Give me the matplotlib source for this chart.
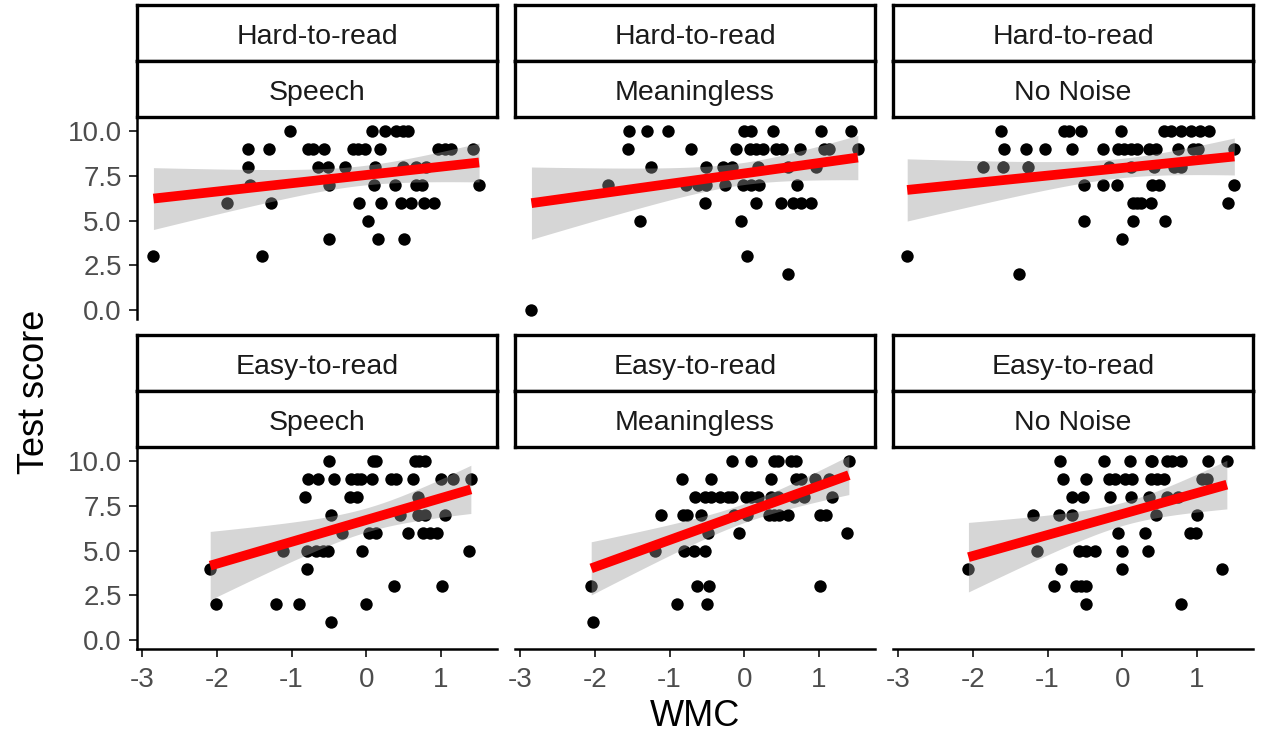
import numpy as np
import matplotlib.pyplot as plt

plt.rcParams['font.family'] = ['Liberation Sans', 'DejaVu Sans']
plt.rcParams['axes.unicode_minus'] = False

legibility = ['Hard-to-read', 'Easy-to-read']
noise = ['Speech', 'Meaningless', 'No Noise']

# Hard-to-read / Speech
wmc_hard_speech = [-1.02, 0.07, 0.25, 0.40, 0.49, 0.56,
                   -1.58, -1.30, -0.78, -0.71, -0.56, -0.18, -0.11, -0.02, 0.18, 0.96, 1.05, 1.14, 1.43,
                   -1.58, -0.65, -0.51, -0.28, 0.11, 0.49, 0.67, 0.80,
                   -1.56, -0.50, 0.10, 0.38, 0.67, 0.74, 1.51,
                   -1.86, -1.27, -0.10, 0.20, 0.47, 0.60, 0.77, 0.90,
                   0.02,
                   -0.50, 0.16, 0.50,
                   -2.85, -1.39]
score_hard_speech = [10] * 6 + [9] * 13 + [8] * 8 + [7] * 7 + [6] * 8 + [5] * 1 + [4] * 3 + [3] * 2

# Hard-to-read / Meaningless
wmc_hard_mean = [-1.55, -1.30, -1.02, 0.00, 0.09, 0.38, 1.03, 1.43,
                 -1.56, -0.71, -0.11, 0.07, 0.16, 0.25, 0.42, 0.51, 0.74, 1.07, 1.14, 1.52,
                 -1.25, -0.51, -0.29, -0.16, 0.18, 0.58, 0.96,
                 -1.83, -0.78, -0.62, -0.51, -0.26, -0.02, 0.09, 0.20, 0.71,
                 -0.53, 0.16, 0.49, 0.65, 0.76, 0.89,
                 -1.40, -0.04,
                 0.04,
                 0.59,
                 -2.85]
score_hard_mean = [10] * 8 + [9] * 12 + [8] * 7 + [7] * 9 + [6] * 6 + [5] * 2 + [3] + [2] + [0]

# Hard-to-read / No Noise
wmc_hard_none = [-1.62, -0.78, -0.71, -0.55, -0.02, 0.56, 0.65, 0.78, 0.92, 1.04, 1.16,
                 -1.58, -1.29, -1.04, -0.67, -0.26, -0.06, 0.02, 0.11, 0.20, 0.36, 0.45, 0.74, 0.94, 1.01, 1.50,
                 -1.86, -1.60, -1.26, -0.18, 0.11, 0.43, 0.69, 0.78,
                 -0.51, -0.26, -0.07, 0.40, 0.49, 1.50,
                 0.14, 0.20, 0.25, 0.38, 1.41,
                 -0.51, 0.14, 0.57,
                 0.00,
                 -2.88,
                 -1.38]
score_hard_none = [10] * 11 + [9] * 15 + [8] * 8 + [7] * 6 + [6] * 5 + [5] * 3 + [4] + [3] + [2]

# Easy-to-read / Speech
wmc_easy_speech = [-0.50, 0.09, 0.13, 0.65, 0.71, 0.78,
                   -0.78, -0.65, -0.43, -0.20, -0.13, -0.07, 0.08, 0.33, 0.40, 0.62, 1.00, 1.16, 1.40,
                   -0.82, -0.22, -0.13, 0.69,
                   -0.47, 0.45, 0.69, 0.78, 1.06,
                   -0.33, 0.04, 0.13, 0.56, 0.76, 0.85, 0.94,
                   -1.11, -0.80, -0.67, -0.58, -0.51, -0.06, 1.37,
                   -2.09, -0.80,
                   0.37, 1.02,
                   -2.01, -1.21, -0.90, 0.00,
                   -0.47]
score_easy_speech = [10] * 6 + [9] * 13 + [8] * 4 + [7] * 5 + [6] * 7 + [5] * 7 + [4] * 2 + [3] * 2 + [2] * 4 + [1]

# Easy-to-read / Meaningless
wmc_easy_mean = [-0.16, 0.09, 0.40, 0.45, 0.62, 0.69, 1.40,
                 -0.83, -0.44, 0.36, 0.69, 0.76, 0.94, 1.14,
                 -0.66, -0.53, -0.45, -0.33, -0.22, -0.16, 0.02, 0.09, 0.18, 0.36, 0.45, 0.67, 0.80, 1.18,
                 -1.12, -0.82, -0.77, -0.58, -0.14, 0.04, 0.33, 0.40, 0.47, 0.59, 1.02, 1.09,
                 -0.49, -0.07, 1.37,
                 -1.20, -0.81, -0.67, -0.53,
                 -2.05, -0.63, -0.47, 1.02,
                 -0.90, -0.50,
                 -2.02]
score_easy_mean = [10] * 7 + [9] * 7 + [8] * 14 + [7] * 12 + [6] * 3 + [5] * 4 + [3] * 4 + [2] * 2 + [1]

# Easy-to-read / No Noise
wmc_easy_none = [-0.83, -0.25, 0.10, 0.38, 0.40, 0.60, 0.67, 0.78, 1.15, 1.40,
                 -0.80, -0.48, -0.18, -0.10, 0.04, 0.13, 0.38, 0.47, 0.56, 1.07, 1.14,
                 -0.68, -0.52, -0.16, 0.11, 0.36, 0.60, 0.74,
                 -1.20, -0.85, -0.67, 0.45, 1.00,
                 -0.06, 0.31, 0.91, 0.99,
                 -1.14, -0.58, -0.49, -0.36, 0.00, 0.35,
                 -2.06, -0.82, 0.00, 1.34,
                 -0.92, -0.62, -0.55, -0.49,
                 -0.49, 0.78]
score_easy_none = [10] * 10 + [9] * 11 + [8] * 7 + [7] * 5 + [6] * 4 + [5] * 6 + [4] * 4 + [3] * 4 + [2] * 2

panels = [
    [(wmc_hard_speech, score_hard_speech), (wmc_hard_mean, score_hard_mean), (wmc_hard_none, score_hard_none)],
    [(wmc_easy_speech, score_easy_speech), (wmc_easy_mean, score_easy_mean), (wmc_easy_none, score_easy_none)],
]

y_ticks = [0, 2.5, 5, 7.5, 10]
y_tick_labels = ['0.0', '2.5', '5.0', '7.5', '10.0']
x_ticks = [-3, -2, -1, 0, 1]
x_tick_labels = ['-3', '-2', '-1', '0', '1']


def lm_band(x, y, n=80):
    """linear fit with 95% confidence band, like geom_smooth(method = 'lm')"""
    x = np.asarray(x, dtype=float)
    y = np.asarray(y, dtype=float)
    nobs = len(x)
    xm = x.mean()
    sxx = ((x - xm) ** 2).sum()
    slope = ((x - xm) * (y - y.mean())).sum() / sxx
    icpt = y.mean() - slope * xm
    resid = y - (icpt + slope * x)
    s = np.sqrt((resid ** 2).sum() / (nobs - 2))
    xs = np.linspace(x.min(), x.max(), n)
    fit = icpt + slope * xs
    se = s * np.sqrt(1 / nobs + (xs - xm) ** 2 / sxx)
    df = nobs - 2
    z = 1.959964
    t = z + (z ** 3 + z) / (4 * df) + (5 * z ** 5 + 16 * z ** 3 + 3 * z) / (96 * df ** 2)
    return xs, fit, fit - t * se, fit + t * se


W, H = 1261, 737
fig = plt.figure(figsize=(W / 100, H / 100), dpi=100)

col_left = [137, 515, 893]
panel_w = 360
row_axes = [(117, 319), (447, 649)]      # top/bottom of each panel in px
row_strips = [[(5, 61), (61, 117)], [(335, 391), (391, 447)]]


def frac(left, top, width, height):
    return [left / W, 1 - (top + height) / H, width / W, height / H]


for r in range(2):
    for c in range(3):
        x, y = panels[r][c]
        top, bottom = row_axes[r]
        ax = fig.add_axes(frac(col_left[c], top, panel_w, bottom - top))
        ax.scatter(x, y, s=80, color='black', linewidths=0, zorder=2)
        xs, fit, lo, hi = lm_band(x, y)
        ax.fill_between(xs, lo, hi, color='#999999', alpha=0.4, linewidth=0, zorder=3)
        ax.plot(xs, fit, color='red', lw=7, zorder=4, solid_capstyle='butt')
        ax.set_xlim(-3.07, 1.75)
        ax.set_ylim(-0.5, 10.8)
        for side in ['top', 'right']:
            ax.spines[side].set_visible(False)
        ax.spines['left'].set_visible(c == 0)
        ax.spines['bottom'].set_visible(r == 1)
        for side in ['left', 'bottom']:
            ax.spines[side].set_linewidth(1.8)
            ax.spines[side].set_color('black')
        ax.set_yticks(y_ticks)
        ax.set_xticks(x_ticks)
        if c == 0:
            ax.set_yticklabels(y_tick_labels)
        else:
            ax.tick_params(axis='y', left=False, labelleft=False)
        if r == 1:
            ax.set_xticklabels(x_tick_labels)
        else:
            ax.tick_params(axis='x', bottom=False, labelbottom=False)
        ax.tick_params(axis='both', direction='out', length=6, width=1.4, color='#333333',
                       labelsize=20, labelcolor='#4D4D4D')
        ax.tick_params(axis='y', pad=5)
        ax.tick_params(axis='x', pad=7)
        ax.patch.set_alpha(0)

        # facet strips
        labels = [legibility[r], noise[c]]
        for (s_top, s_bot), lab in zip(row_strips[r], labels):
            sax = fig.add_axes(frac(col_left[c], s_top, panel_w, s_bot - s_top))
            sax.set_xticks([])
            sax.set_yticks([])
            for sp in sax.spines.values():
                sp.set_linewidth(2.4)
                sp.set_color('black')
            sax.text(0.5, 0.42, lab, ha='center', va='center', fontsize=20.5,
                     color='#1A1A1A', transform=sax.transAxes)

fig.text(35 / W, 1 - 392 / H, 'Test score', rotation=90, ha='center', va='center',
         fontsize=26, color='black')
fig.text(695 / W, 1 - 717 / H, 'WMC', ha='center', va='center', fontsize=26, color='black')

fig.savefig('out.png', dpi=100)
